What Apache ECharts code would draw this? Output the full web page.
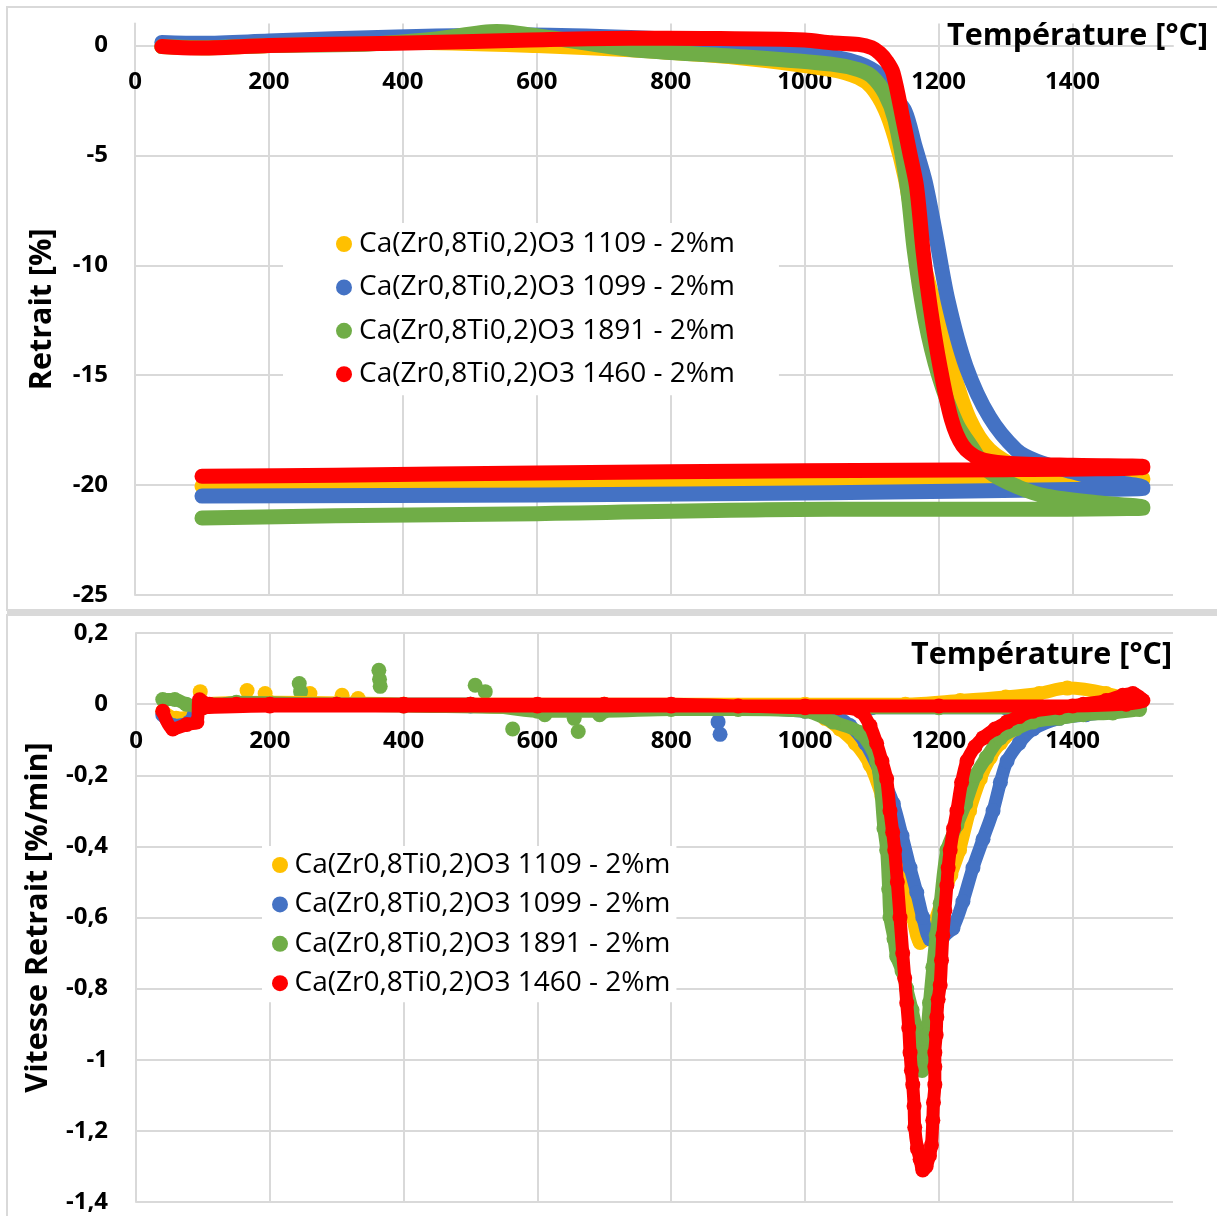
<!DOCTYPE html>
<html>
<head>
<meta charset="utf-8">
<script src="https://cdn.jsdelivr.net/npm/echarts@6/dist/echarts.min.js"></script>
<style>
html,body{margin:0;padding:0;background:#fff;}
#chart{width:1217px;height:1216px;}
</style>
</head>
<body>
<div id="chart"></div>
<script>
// ---------- DATA ----------
const seriesNames = [
  'Ca(Zr0,8Ti0,2)O3 1109 - 2%m',
  'Ca(Zr0,8Ti0,2)O3 1099 - 2%m',
  'Ca(Zr0,8Ti0,2)O3 1891 - 2%m',
  'Ca(Zr0,8Ti0,2)O3 1460 - 2%m'
];
const seriesColors = ['#FFC000', '#4472C4', '#70AD47', '#FF0000'];
const xTitle = 'Température [°C]';
const yTitleTop = 'Retrait [%]';
const yTitleBottom = 'Vitesse Retrait [%/min]';

// Retrait [%] vs température (heating then cooling)
const retrait1109 = [[40,-0.05],[100,-0.1],[200,0.0],[400,0.15],[600,0.0],[740,-0.2],[900,-0.55],[1040,-1.1],[1080,-1.45],[1100,-1.9],[1120,-2.9],[1135,-4.2],[1150,-6.0],[1165,-8.5],[1185,-10.8],[1200,-12.5],[1219,-14.6],[1246,-17],[1276,-18.4],[1320,-19.2],[1400,-19.5],[1505,-19.7],
  [1505,-19.75],[1340,-19.8],[1038,-19.85],[600,-19.95],[100,-20.05]];
const retrait1099 = [[40,0.14],[100,0.1],[200,0.2],[390,0.39],[590,0.48],[740,0.36],[900,0.1],[1000,-0.3],[1040,-0.5],[1080,-0.8],[1110,-1.3],[1130,-2.2],[1150,-3.0],[1165,-4.6],[1180,-6.2],[1195,-8.5],[1214,-11.6],[1241,-14.6],[1276,-16.9],[1316,-18.4],[1346,-18.9],[1400,-19.4],[1450,-19.8],[1505,-20.1],
  [1505,-20.15],[1400,-20.2],[1038,-20.35],[600,-20.45],[100,-20.5]];
const retrait1891 = [[40,-0.05],[100,-0.1],[200,0.0],[350,0.07],[450,0.3],[540,0.64],[620,0.35],[740,-0.18],[900,-0.5],[1040,-0.85],[1080,-1.1],[1100,-1.4],[1120,-2.2],[1135,-3.4],[1153,-6.4],[1164,-9.4],[1180,-12.5],[1200,-15.0],[1227,-17.2],[1250,-18.3],[1276,-19.4],[1320,-20.1],[1361,-20.5],[1436,-20.8],[1505,-21.0],
  [1505,-21.05],[1300,-21.1],[1038,-21.1],[600,-21.3],[300,-21.4],[100,-21.5]];
const retrait1460 = [[40,-0.05],[92,-0.12],[200,0.0],[390,0.1],[590,0.25],[740,0.33],[850,0.32],[1000,0.25],[1040,0.12],[1080,0.05],[1100,-0.1],[1112,-0.35],[1122,-0.7],[1132,-1.25],[1147,-3.4],[1157,-4.9],[1167,-6.4],[1177,-9.4],[1188,-12],[1202,-14.6],[1219,-17.0],[1236,-18.2],[1261,-18.8],[1300,-19.0],[1400,-19.1],[1505,-19.15],
  [1505,-19.2],[1300,-19.3],[1000,-19.35],[600,-19.45],[300,-19.55],[100,-19.6]];

// Vitesse retrait [%/min] vs température (heating then cooling)
const vitesse1109 = [[40,-0.02],[60,-0.04],[90,-0.03],[100,0.0],[200,0.005],[400,0.0],[600,-0.01],[800,-0.01],[1000,-0.015],[1030,-0.04],[1052,-0.07],[1075,-0.11],[1097,-0.17],[1115,-0.26],[1130,-0.36],[1145,-0.47],[1161,-0.6],[1172,-0.67],[1182,-0.66],[1192,-0.62],[1205,-0.55],[1218,-0.48],[1231,-0.41],[1246,-0.3],[1262,-0.21],[1277,-0.15],[1292,-0.11],[1320,-0.06],[1360,-0.03],[1420,-0.01],[1500,0.0],
  [1450,0.03],[1392,0.045],[1350,0.03],[1300,0.02],[1232,0.01],[1150,0.0],[1000,0.0],[700,0.0],[400,0.0],[100,0.0]];
const vitesse1099 = [[40,-0.03],[55,-0.06],[80,-0.05],[95,0.0],[150,0.0],[300,0.0],[500,0.0],[600,-0.01],[700,-0.01],[800,-0.01],[900,-0.01],[1000,-0.02],[1040,-0.03],[1067,-0.06],[1090,-0.11],[1112,-0.19],[1132,-0.28],[1145,-0.37],[1157,-0.46],[1167,-0.53],[1176,-0.6],[1187,-0.66],[1196,-0.66],[1208,-0.65],[1221,-0.63],[1236,-0.555],[1251,-0.46],[1266,-0.38],[1281,-0.3],[1292,-0.22],[1302,-0.16],[1320,-0.11],[1341,-0.07],[1380,-0.04],[1420,-0.03],[1460,-0.02],[1500,0.0],
  [1450,-0.01],[1300,-0.01],[1100,-0.01],[900,-0.01],[700,-0.01],[500,-0.005],[300,0.0],[100,0.0]];
const vitesse1891 = [[40,0.013],[58,0.013],[75,0.0],[100,-0.01],[150,0.005],[300,0.0],[500,0.0],[600,-0.02],[700,-0.02],[800,-0.015],[900,-0.015],[1000,-0.02],[1042,-0.05],[1082,-0.08],[1107,-0.16],[1118,-0.35],[1122,-0.41],[1125,-0.52],[1127,-0.6],[1133,-0.66],[1137,-0.71],[1145,-0.75],[1152,-0.8],[1160,-0.86],[1167,-0.92],[1172,-0.98],[1175,-1.03],[1179,-0.98],[1182,-0.93],[1186,-0.84],[1191,-0.74],[1196,-0.65],[1202,-0.56],[1212,-0.41],[1227,-0.34],[1240,-0.28],[1255,-0.2],[1271,-0.15],[1292,-0.095],[1315,-0.07],[1341,-0.05],[1380,-0.04],[1416,-0.03],[1460,-0.025],[1500,-0.015],
  [1400,-0.01],[1200,-0.01],[1000,-0.01],[800,-0.01],[600,-0.01],[400,-0.005],[200,0.0],[100,0.0]];
const vitesse1460 = [[40,-0.02],[55,-0.07],[76,-0.057],[91,-0.05],[95,0.012],[110,0.0],[150,0.0],[200,0.0],[300,0.0],[400,0.0],[500,0.0],[600,0.0],[700,0.0],[800,0.0],[900,-0.005],[1000,-0.01],[1050,-0.01],[1082,-0.02],[1097,-0.06],[1107,-0.11],[1115,-0.16],[1122,-0.21],[1127,-0.3],[1131,-0.36],[1134,-0.41],[1138,-0.5],[1142,-0.6],[1146,-0.7],[1149,-0.77],[1152,-0.84],[1155,-0.91],[1157,-0.98],[1159,-1.03],[1161,-1.07],[1163,-1.13],[1164,-1.19],[1168,-1.25],[1172,-1.28],[1176,-1.31],[1181,-1.3],[1186,-1.27],[1189,-1.24],[1191,-1.17],[1192,-1.12],[1194,-1.07],[1194,-1.02],[1194,-0.98],[1196,-0.93],[1197,-0.88],[1199,-0.83],[1202,-0.79],[1204,-0.72],[1206,-0.65],[1209,-0.58],[1212,-0.51],[1214,-0.46],[1217,-0.41],[1222,-0.35],[1227,-0.3],[1234,-0.22],[1242,-0.16],[1254,-0.12],[1266,-0.095],[1284,-0.07],[1302,-0.05],[1320,-0.035],[1341,-0.02],[1380,-0.01],[1416,0.0],[1450,0.01],[1475,0.025],[1490,0.03],[1505,0.01],
  [1480,0.0],[1400,-0.005],[1200,-0.005],[1000,-0.005],[800,-0.005],[600,-0.005],[400,-0.005],[200,-0.005],[100,-0.01]];

// isolated noisy points in the rate curves
const outliers1109 = [[96,0.035],[166,0.038],[193,0.03],[260,0.03],[308,0.025],[332,0.016]];
const outliers1099 = [[870,-0.05],[873,-0.085]];
const outliers1891 = [[244,0.058],[246,0.035],[363,0.095],[364,0.07],[365,0.05],[507,0.053],[522,0.035],[563,-0.07],[611,-0.03],[655,-0.04],[661,-0.077],[693,-0.03]];
const outliers1460 = [];

const retraitData = [retrait1109, retrait1099, retrait1891, retrait1460];
const vitesseData = [vitesse1109, vitesse1099, vitesse1891, vitesse1460];
const outlierData = [outliers1109, outliers1099, outliers1891, outliers1460];

// ---------- CHART ----------
const FONT = '"Open Sans"';
const grid = '#d9d9d9';
const chart = echarts.init(document.getElementById('chart'), null, {renderer: 'canvas'});

const series = [];
for (let i = 0; i < 4; i++) {
  series.push({
    name: seriesNames[i], type: 'line', xAxisIndex: 0, yAxisIndex: 0,
    data: retraitData[i], showSymbol: false, smooth: 0.3,
    color: seriesColors[i],
    lineStyle: {width: 15, color: seriesColors[i], cap: 'round', join: 'round'},
    silent: true, z: 2 + i
  });
}
for (let i = 0; i < 4; i++) {
  series.push({
    name: seriesNames[i], type: 'line', xAxisIndex: 1, yAxisIndex: 1,
    data: vitesseData[i], showSymbol: true, showAllSymbol: true, symbol: 'circle', symbolSize: 15, smooth: 0.3,
    color: seriesColors[i],
    itemStyle: {color: seriesColors[i]},
    lineStyle: {width: 13, color: seriesColors[i], cap: 'round', join: 'round'},
    silent: true, z: 2 + i
  });
  series.push({
    name: seriesNames[i], type: 'scatter', xAxisIndex: 1, yAxisIndex: 1,
    data: outlierData[i], symbol: 'circle', symbolSize: 15,
    itemStyle: {color: seriesColors[i], opacity: 1},
    silent: true, z: 1
  });
}

const axisLabelStyle = {color: '#000', fontSize: 24, fontWeight: 'bold', fontFamily: FONT};
const commaFmt = v => String(Math.round(v * 10) / 10).replace('.', ',');
const plainFmt = v => String(v);

// vertical positions of the value 0 inside each grid (x axis crosses there)
const topGrid = {left: 135, top: 23.5, width: 1038, height: 571.5};
const botGrid = {left: 136, top: 633, width: 1037, height: 569};
const topZeroOffset = -topGrid.height * (0 - (-25)) / (1 - (-25));
const botZeroOffset = -botGrid.height * (0 - (-1.4)) / (0.2 - (-1.4));

const option = {
  animation: false,
  backgroundColor: '#fff',
  textStyle: {fontFamily: FONT},
  grid: [topGrid, botGrid],
  xAxis: [
    {gridIndex: 0, type: 'value', min: 0, max: 1550, interval: 200,
     offset: topZeroOffset,
     axisLine: {onZero: false, lineStyle: {color: grid, width: 2}},
     axisTick: {show: false},
     axisLabel: Object.assign({margin: 25, showMaxLabel: false, formatter: plainFmt}, axisLabelStyle),
     splitLine: {show: true, showMinLine: false, showMaxLine: false, lineStyle: {color: grid, width: 2}}},
    {gridIndex: 1, type: 'value', min: 0, max: 1550, interval: 200,
     offset: botZeroOffset,
     axisLine: {onZero: false, lineStyle: {color: grid, width: 2}},
     axisTick: {show: false},
     axisLabel: Object.assign({margin: 25, showMaxLabel: false, formatter: plainFmt}, axisLabelStyle),
     splitLine: {show: true, showMinLine: false, showMaxLine: false, lineStyle: {color: grid, width: 2}}}
  ],
  yAxis: [
    {gridIndex: 0, type: 'value', min: -25, max: 1, interval: 5,
     name: yTitleTop, nameLocation: 'middle', nameGap: 77,
     nameTextStyle: {color: '#000', fontSize: 30.5, fontWeight: 'bold', fontFamily: FONT},
     axisLine: {show: true, onZero: false, lineStyle: {color: grid, width: 2}},
     axisTick: {show: false},
     axisLabel: Object.assign({margin: 27, showMaxLabel: false, formatter: plainFmt}, axisLabelStyle),
     splitLine: {show: true, showMaxLine: false, lineStyle: {color: grid, width: 2}}},
    {gridIndex: 1, type: 'value', min: -1.4, max: 0.2, interval: 0.2,
     name: yTitleBottom, nameLocation: 'middle', nameGap: 82,
     nameTextStyle: {color: '#000', fontSize: 30.5, fontWeight: 'bold', fontFamily: FONT},
     axisLine: {show: true, onZero: false, lineStyle: {color: grid, width: 2}},
     axisTick: {show: false},
     axisLabel: Object.assign({margin: 28, formatter: commaFmt}, axisLabelStyle),
     splitLine: {show: true, lineStyle: {color: grid, width: 2}}}
  ],
  legend: [
    {data: seriesNames, orient: 'vertical', left: 283, top: 223,
     padding: [6, 44, 6, 53], backgroundColor: '#fff',
     icon: 'circle', itemWidth: 20, itemHeight: 16, itemGap: 13.4,
     selectedMode: false,
     textStyle: {color: '#000', fontSize: 28, fontFamily: FONT, lineHeight: 30}},
    {data: seriesNames, orient: 'vertical', left: 262, top: 846,
     padding: [4, 6, 4, 10], backgroundColor: '#fff',
     icon: 'circle', itemWidth: 19, itemHeight: 16, itemGap: 9.4,
     selectedMode: false,
     textStyle: {color: '#000', fontSize: 28, fontFamily: FONT, lineHeight: 30}}
  ],
  graphic: [
    {type: 'rect', z: -10, shape: {x: 7, y: 7, width: 1230, height: 603}, style: {fill: 'none', stroke: '#d9d9d9', lineWidth: 2}},
    {type: 'rect', z: -10, shape: {x: 7, y: 609, width: 1230, height: 6}, style: {fill: '#d9d9d9'}},
    {type: 'rect', z: -10, shape: {x: 7, y: 615, width: 1230, height: 620}, style: {fill: 'none', stroke: '#d9d9d9', lineWidth: 2}},
    {type: 'text', z: 100, x: 1208, y: 36, style: {text: xTitle, align: 'right', verticalAlign: 'middle', font: 'bold 30.5px ' + FONT, fill: '#000'}},
    {type: 'text', z: 100, x: 1172, y: 655, style: {text: xTitle, align: 'right', verticalAlign: 'middle', font: 'bold 30.5px ' + FONT, fill: '#000'}}
  ],
  series: series
};
chart.setOption(option);
</script>
</body>
</html>
